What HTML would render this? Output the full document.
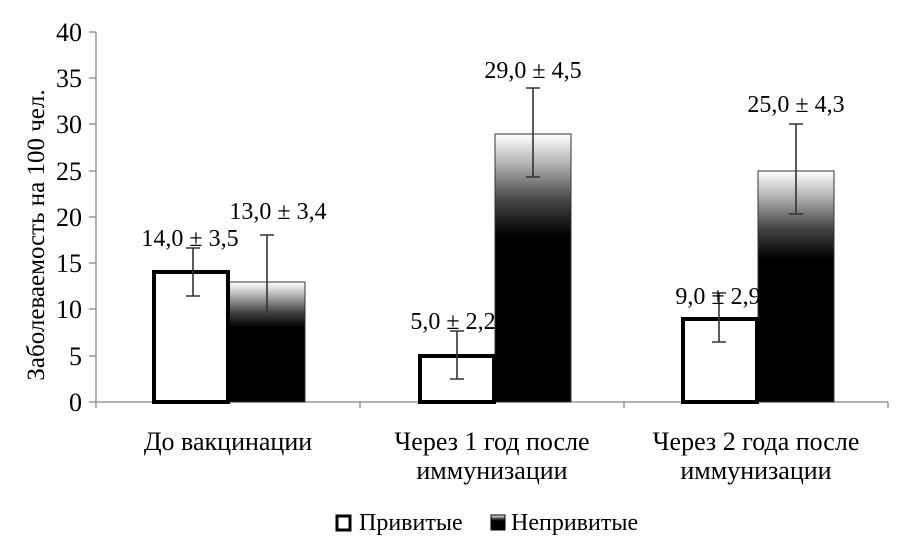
<!DOCTYPE html>
<html><head><meta charset="utf-8"><style>body{margin:0;background:#fff}svg{display:block}</style></head><body>
<svg width="918" height="555" xmlns="http://www.w3.org/2000/svg" font-family="Liberation Serif, serif" font-size="24" fill="#000">
<defs>
<linearGradient id="g" x1="0" y1="0" x2="0" y2="1">
<stop offset="0" stop-color="#fff"/><stop offset="0.1" stop-color="#bbb"/><stop offset="0.25" stop-color="#444"/><stop offset="0.38" stop-color="#000"/><stop offset="1" stop-color="#000"/>
</linearGradient>
</defs>
<g stroke="#888" stroke-width="1.3">
<line x1="96" y1="32" x2="96" y2="402"/>
<line x1="96" y1="402" x2="888" y2="402"/>
<line x1="89" y1="32" x2="96" y2="32"/><line x1="89" y1="78" x2="96" y2="78"/><line x1="89" y1="124" x2="96" y2="124"/><line x1="89" y1="171" x2="96" y2="171"/><line x1="89" y1="217" x2="96" y2="217"/><line x1="89" y1="263" x2="96" y2="263"/><line x1="89" y1="309" x2="96" y2="309"/><line x1="89" y1="356" x2="96" y2="356"/><line x1="89" y1="402" x2="96" y2="402"/>
<line x1="96" y1="402" x2="96" y2="408"/><line x1="360" y1="402" x2="360" y2="408"/><line x1="624" y1="402" x2="624" y2="408"/><line x1="888" y1="402" x2="888" y2="408"/>
</g>
<g text-anchor="end" font-size="26">
<text x="82" y="41">40</text><text x="82" y="87">35</text><text x="82" y="133">30</text><text x="82" y="180">25</text><text x="82" y="226">20</text><text x="82" y="272">15</text><text x="82" y="318">10</text><text x="82" y="365">5</text><text x="82" y="411">0</text>
</g>
<text transform="translate(44,235) rotate(-90)" text-anchor="middle" font-size="25">Заболеваемость на 100 чел.</text>
<rect x="229" y="282" width="76" height="120" fill="url(#g)" stroke="#333" stroke-width="1"/>
<rect x="495" y="134" width="76" height="268" fill="url(#g)" stroke="#333" stroke-width="1"/>
<rect x="758" y="171" width="76" height="231" fill="url(#g)" stroke="#333" stroke-width="1"/>
<rect x="154" y="272" width="74" height="130" fill="#fff" stroke="#000" stroke-width="4"/>
<rect x="420" y="356" width="74" height="46" fill="#fff" stroke="#000" stroke-width="4"/>
<rect x="683" y="319" width="74" height="83" fill="#fff" stroke="#000" stroke-width="4"/>
<g stroke="#333" stroke-width="1.6">
<path d="M193 248V296M186 248H200M186 296H200"/>
<path d="M267 235V313M260 235H274"/>
<path d="M457 331V379M450 331H464M450 379H464"/>
<path d="M533 88V177M526 88H540M526 177H540"/>
<path d="M719 293V342M712 293H726M712 342H726"/>
<path d="M796 124V214M789 124H803M789 214H803"/>
</g>
<g text-anchor="middle">
<text x="190" y="246">14,0 ± 3,5</text>
<text x="278" y="219">13,0 ± 3,4</text>
<text x="453" y="329">5,0 ± 2,2</text>
<text x="533" y="78">29,0 ± 4,5</text>
<text x="718" y="304">9,0 ± 2,9</text>
<text x="796" y="112">25,0 ± 4,3</text>
</g>
<g text-anchor="middle" font-size="26">
<text x="228" y="450">До вакцинации</text>
<text x="492" y="450">Через 1 год после</text>
<text x="492" y="479">иммунизации</text>
<text x="756" y="450">Через 2 года после</text>
<text x="756" y="479">иммунизации</text>
</g>
<rect x="337" y="516" width="13" height="14" fill="#fff" stroke="#000" stroke-width="3"/>
<text x="359" y="530" font-size="24">Привитые</text>
<rect x="491" y="515" width="14" height="15" fill="url(#g)" stroke="#000" stroke-width="1"/>
<text x="511" y="530" font-size="24">Непривитые</text>
</svg>
</body></html>
